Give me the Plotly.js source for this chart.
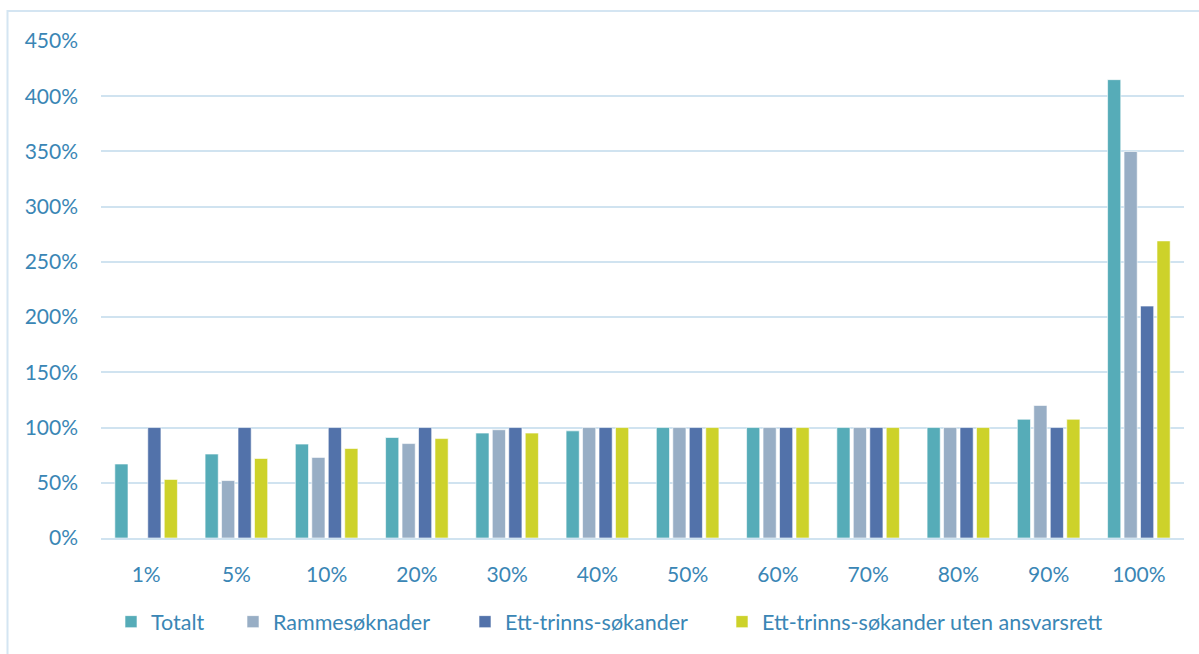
<!DOCTYPE html>
<html>
<head>
<meta charset="utf-8">
<script src="https://cdn.plot.ly/plotly-3.0.1.min.js"></script>
<style>html,body{margin:0;padding:0;background:#fff;}#chart{width:1199px;height:654px;}</style>
</head>
<body>
<div id="chart"></div>
<script>
const categories = ["1%", "5%", "10%", "20%", "30%", "40%", "50%", "60%", "70%", "80%", "90%", "100%"];
const totalt = [0.67, 0.76, 0.85, 0.91, 0.95, 0.97, 1.00, 1.00, 1.00, 1.00, 1.075, 4.15];
const rammesoknader = [null, 0.52, 0.73, 0.855, 0.98, 1.00, 1.00, 1.00, 1.00, 1.00, 1.20, 3.50];
const ettTrinns = [1.00, 1.00, 1.00, 1.00, 1.00, 1.00, 1.00, 1.00, 1.00, 1.00, 1.00, 2.10];
const ettTrinnsUten = [0.53, 0.72, 0.81, 0.90, 0.95, 1.00, 1.00, 1.00, 1.00, 1.00, 1.075, 2.69];
const seriesNames = ["Totalt", "Rammesøknader", "Ett-trinns-søkander", "Ett-trinns-søkander uten ansvarsrett"];
const yTickVals = [0, 0.5, 1, 1.5, 2, 2.5, 3, 3.5, 4, 4.5];

const colors = ["#56acb8", "#98aec5", "#5272aa", "#cdd22a"];
const values = [totalt, rammesoknader, ettTrinns, ettTrinnsUten];
const textColor = "#3a86b5";
const font = "Lato, 'Open Sans', sans-serif";
const legendIds = ["legend", "legend2", "legend3", "legend4"];
const legendMarkerX = [126, 248, 480, 737];

const traces = values.map((v, i) => ({
  type: "bar",
  name: seriesNames[i],
  x: categories,
  y: v,
  legend: legendIds[i],
  marker: {color: colors[i], line: {color: "rgba(255,255,255,0.6)", width: 1}},
  hoverinfo: "skip"
}));

const L = 101, R = 1184, T = 41, B = 540;
const W = R - L, H = B - T;

const layout = {
  width: 1199, height: 654,
  margin: {l: L, r: 1199 - R, t: T, b: 654 - B, pad: 0},
  paper_bgcolor: "#fff", plot_bgcolor: "#fff",
  barmode: "group",
  bargap: 0.27,
  bargroupgap: 0.2,
  font: {family: font, size: 21, color: textColor},
  showlegend: true,
  xaxis: {
    type: "category",
    showgrid: false, zeroline: false,
    showline: true, linecolor: "#d0e3f0", linewidth: 2,
    ticks: "", ticklabelstandoff: 17,
    tickfont: {family: font, size: 21, color: textColor},
    fixedrange: true
  },
  yaxis: {
    range: [0, 4.5],
    tickvals: yTickVals,
    tickformat: ".0%",
    showgrid: true, gridcolor: "#d0e3f0", gridwidth: 2,
    zeroline: false, showline: false,
    ticks: "", ticklabelstandoff: 22,
    tickfont: {family: font, size: 21, color: textColor},
    fixedrange: true
  },
  shapes: [{
    type: "rect", xref: "paper", yref: "paper",
    x0: (7.5 - L) / W, x1: 1.2,
    y0: -0.5, y1: (B - 11) / H,
    line: {color: "#d4e5f2", width: 2}, fillcolor: "rgba(0,0,0,0)", layer: "below"
  }]
};

legendIds.forEach((id, i) => {
  layout[id] = {
    orientation: "h",
    x: (legendMarkerX[i] - 15 - L) / W, xanchor: "left",
    y: (B - 624) / H, yanchor: "middle",
    font: {family: font, size: 21.5, color: textColor},
    itemwidth: 30,
    bgcolor: "rgba(0,0,0,0)"
  };
});

Plotly.newPlot("chart", traces, layout, {displayModeBar: false, staticPlot: true});
</script>
</body>
</html>
